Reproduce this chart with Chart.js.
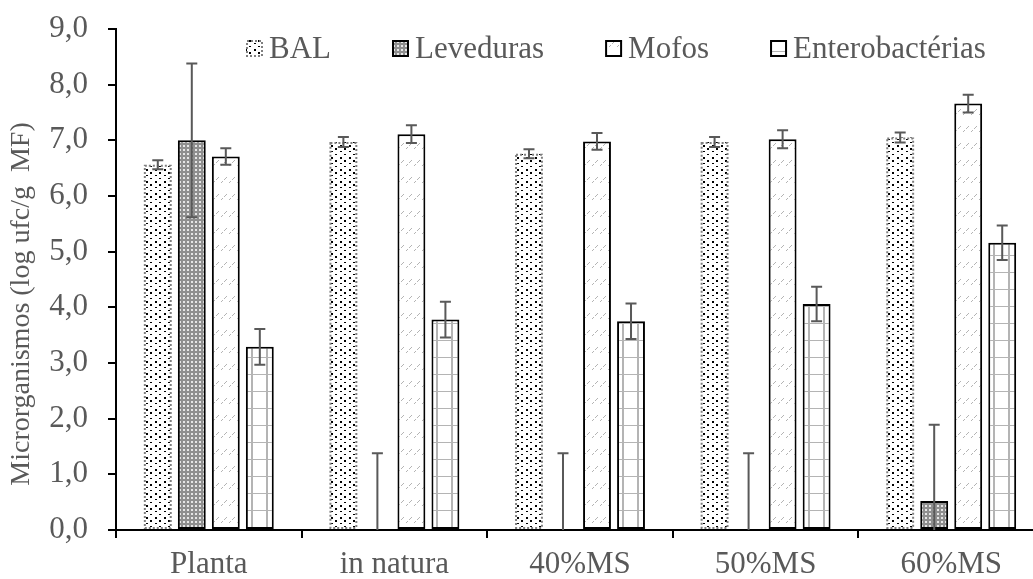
<!DOCTYPE html>
<html>
<head>
<meta charset="utf-8">
<script src="https://cdn.jsdelivr.net/npm/chart.js@4.4.1/dist/chart.umd.min.js"></script>
<style>
  html, body { margin: 0; padding: 0; overflow: hidden; background: #fff; }
</style>
</head>
<body>
<canvas id="myChart" width="1046" height="579"></canvas>
<script>
// data
var categories = ['Planta', 'in natura', '40%MS', '50%MS', '60%MS'];
var seriesNames = ['BAL', 'Leveduras', 'Mofos', 'Enterobactérias'];
var bal = [6.56, 6.97, 6.76, 6.97, 7.05];
var balErr = [0.08, 0.09, 0.08, 0.09, 0.09];
var leveduras = [7.00, 0, 0, 0, 0.52];
var levedurasErr = [1.38, 1.38, 1.38, 1.38, 1.37];
var mofos = [6.71, 7.11, 6.98, 7.02, 7.66];
var mofosErr = [0.15, 0.16, 0.15, 0.16, 0.16];
var entero = [3.29, 3.78, 3.75, 4.06, 5.16];
var enteroErr = [0.32, 0.32, 0.32, 0.31, 0.31];
var yTickLabels = ['0,0', '1,0', '2,0', '3,0', '4,0', '5,0', '6,0', '7,0', '8,0', '9,0'];

var errors = [balErr, levedurasErr, mofosErr, enteroErr];
var catPct = 0.733;
var barPct = 0.82;
var txtColor = '#595959';
var fontFamily = "'Liberation Serif', 'Times New Roman', serif";

var ctx = document.getElementById('myChart');
var ctx2d = ctx.getContext('2d');

function tile(w, h, draw) {
  var c = document.createElement('canvas');
  c.width = w; c.height = h;
  var g = c.getContext('2d');
  g.fillStyle = '#fff';
  g.fillRect(0, 0, w, h);
  draw(g);
  return c;
}

// fill patterns
var balTile = tile(9, 12, function(g){
  g.fillStyle = '#000';
  g.fillRect(2, 1, 2, 2);
  g.fillRect(2, 7, 2, 1);
  g.fillRect(6, 4, 2, 2);
  g.fillRect(6, 10, 2, 1);
});
var levTile = tile(4, 4, function(g){
  g.fillStyle = '#8f8f8f';
  g.fillRect(0, 0, 4, 4);
  g.fillStyle = '#e6e6e6';
  g.fillRect(1, 1, 2, 2);
});
var mofTile = tile(8, 17, function(g){
  g.fillStyle = '#b4b4b4';
  [[1,12],[2,11],[4,9],[5,8],[6,7]].forEach(function(p){ g.fillRect(p[0], p[1], 1, 1); });
});
var entTile = tile(15, 17, function(g){
  g.fillStyle = '#b4b4b4';
  g.fillRect(5, 0, 2, 17);
  g.fillRect(0, 0, 15, 1);
});
var tiles = [balTile, levTile, mofTile, entTile];

function anchored(t) {
  var plain = ctx2d.createPattern(t, 'repeat');
  return function(c) {
    if (c.type !== 'data') return plain;
    var xs = c.chart.scales.x;
    if (!xs) return plain;
    var cw = xs.width / categories.length;
    var slot = cw * catPct / 4;
    var left = xs.getPixelForValue(c.dataIndex) + (c.datasetIndex - 1.5) * slot - slot * barPct / 2;
    var p = ctx2d.createPattern(t, 'repeat');
    p.setTransform(new DOMMatrix().translate(Math.round(left), 0));
    return p;
  };
}

// dotted outline for BAL + error bars
var errorBars = {
  id: 'errorBars',
  afterDatasetsDraw: function(chart) {
    var c = chart.ctx, area = chart.chartArea, y = chart.scales.y;
    c.save();
    // BAL dotted border
    var m0 = chart.getDatasetMeta(0);
    c.strokeStyle = '#7f7f7f';
    c.lineWidth = 2;
    c.setLineDash([2, 2]);
    m0.data.forEach(function(el){
      var p = el.getProps(['x', 'y', 'base', 'width'], true);
      c.strokeRect(p.x - p.width / 2 + 1, p.y + 1, p.width - 2, p.base - p.y - 2);
    });
    c.setLineDash([]);
    c.beginPath();
    c.rect(area.left, 0, area.right - area.left, area.bottom);
    c.clip();
    c.strokeStyle = '#595959';
    c.lineWidth = 2;
    chart.data.datasets.forEach(function(ds, i){
      var meta = chart.getDatasetMeta(i);
      meta.data.forEach(function(el, j){
        var v = ds.data[j], e = errors[i][j];
        var x = el.x;
        var top = y.getPixelForValue(v + e);
        var bot = y.getPixelForValue(v - e);
        var clipped = bot > area.bottom;
        if (clipped) bot = area.bottom;
        c.beginPath();
        c.moveTo(x, top); c.lineTo(x, bot);
        c.moveTo(x - 5.5, top); c.lineTo(x + 5.5, top);
        if (!clipped) { c.moveTo(x - 5.5, bot); c.lineTo(x + 5.5, bot); }
        c.stroke();
      });
    });
    c.restore();
  }
};

var legendInside = {
  id: 'legendInside',
  afterDraw: function(chart) {
    var c = chart.ctx;
    c.save();
    c.font = '31px ' + fontFamily;
    c.textBaseline = 'middle';
    var x = 246, yb = 40, box = 17;
    chart.data.datasets.forEach(function(ds, i){
      c.fillStyle = c.createPattern(tiles[i], 'repeat');
      c.fillRect(x, yb, box, box);
      if (i === 0) {
        c.strokeStyle = '#7f7f7f'; c.lineWidth = 2; c.setLineDash([2, 2]);
      } else {
        c.strokeStyle = '#000'; c.lineWidth = 2; c.setLineDash([]);
      }
      c.strokeRect(x + 1, yb + 1, box - 2, box - 2);
      c.setLineDash([]);
      c.fillStyle = txtColor;
      c.fillText(ds.label, x + box + 6, yb + box / 2 + 1);
      x += box + 6 + c.measureText(ds.label).width + 61;
    });
    c.restore();
  }
};

var allData = [bal, leveduras, mofos, entero];
var datasets = allData.map(function(d, i){
  return {
    label: seriesNames[i],
    data: d,
    backgroundColor: anchored(tiles[i]),
    borderColor: '#000',
    borderWidth: i === 0 ? 0 : 2,
    borderSkipped: false,
    categoryPercentage: catPct,
    barPercentage: barPct
  };
});

Chart.defaults.font.family = fontFamily;

var myChart = new Chart(ctx, {
  type: 'bar',
  data: {
    labels: categories,
    datasets: datasets
  },
  options: {
    responsive: false,
    animation: false,
    layout: {
      padding: { left: 0, right: 2, top: 29, bottom: 0 }
    },
    plugins: {
      legend: { display: false },
      tooltip: { enabled: false }
    },
    scales: {
      x: {
        z: 1,
        grid: { drawOnChartArea: false, color: '#000', lineWidth: 2, tickLength: 8, offset: true },
        border: { color: '#000', width: 2 },
        ticks: { color: txtColor, font: { size: 31 }, padding: 8, maxRotation: 0 },
        afterFit: function(s) { s.height = 49; s.paddingLeft = 0; s.paddingRight = 0; }
      },
      y: {
        min: 0,
        max: 9,
        grid: { drawOnChartArea: false, color: '#000', lineWidth: 2, tickLength: 8 },
        border: { color: '#000', width: 2 },
        ticks: {
          stepSize: 1,
          color: txtColor,
          font: { size: 31 },
          padding: 20,
          callback: function(v, idx) { return yTickLabels[idx]; }
        },
        title: {
          display: true,
          text: 'Microrganismos (log ufc/g  MF)       ',
          color: txtColor,
          font: { size: 28 },
          padding: { top: 5, bottom: 0 }
        },
        afterFit: function(s) { s.width = 116; s.paddingTop = 0; s.paddingBottom = 0; }
      }
    }
  },
  plugins: [errorBars, legendInside]
});
</script>
</body>
</html>
